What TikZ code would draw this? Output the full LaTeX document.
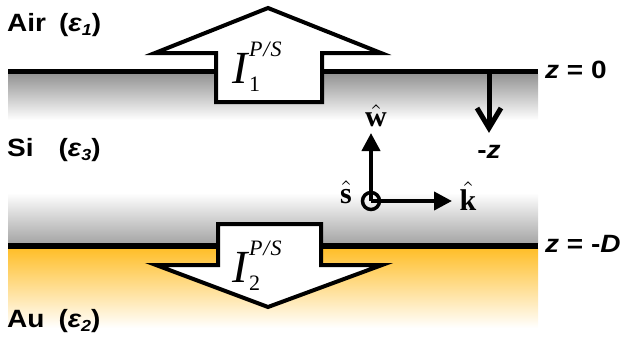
\documentclass[tikz,border=0pt]{standalone}
\usepackage{fontspec}
\usepackage{graphicx}
\newfontfamily\lab{Liberation Sans}[FakeStretch=1.12]
\newfontfamily\tms{Liberation Serif}
\usetikzlibrary{arrows.meta}
\definecolor{gold}{RGB}{255,190,40}
\newcommand\epsl[1]{{\itshape ε}\raisebox{-4pt}{\fontsize{16}{16}\selectfont\itshape #1}}
\newcommand\Ilab[1]{{\fontsize{46}{46}\selectfont\tms\itshape I}\kern1.5pt%
  {\fontsize{22}{22}\selectfont\tms\rlap{\raisebox{27pt}{\itshape P\kern1pt/\kern1pt S}}\raisebox{-8pt}{#1}}}
\newcommand\hatv[1]{\scalebox{3}{$\hat{\mbox{\tms\bfseries #1}}$}}
\tikzset{
  bigarrow/.style={draw=black, fill=white, line width=4pt, miter limit=10},
  lbl/.style={font=\lab\bfseries\fontsize{25}{25}\selectfont, inner sep=0pt, anchor=base west},
  axis/.style={line width=4pt, -{Triangle[length=18pt,width=18pt]}},
  ilbl/.style={inner sep=0pt, anchor=base west},
  hatlbl/.style={inner sep=0pt, anchor=base}
}
\begin{document}
\begin{tikzpicture}[x=1pt,y=-1pt]
\useasboundingbox (0,0) rectangle (622,349);
% layer shadings
\shade[top color=black!42, bottom color=white] (8,74) rectangle (538,120);
\shade[top color=white, bottom color=black!35] (8,193) rectangle (538,243);
\shade[top color=gold, bottom color=white] (8,248) rectangle (538,328);
% interfaces
\coordinate (t0) at (8,71.5);
\coordinate (t1) at (538,71.5);
\coordinate (b0) at (8,245.5);
\coordinate (b1) at (538,245.5);
\draw[line width=5pt] (t0) -- (t1);
\draw[line width=6pt] (b0) -- (b1);
% big arrows
\draw[bigarrow] (216,102) -- (216,53) -- (155,53) -- (268,8) -- (381,53) -- (322,53) -- (322,102) -- cycle;
\draw[bigarrow] (218,224) -- (321,224) -- (321,265) -- (382,265) -- (268,307) -- (156,265) -- (218,265) -- cycle;
\node[ilbl] (i1) at (232,83) {\Ilab{1}};
\node[ilbl] (i2) at (232,282) {\Ilab{2}};
% medium labels
\node[lbl] (air) at (7,31) {Air\hspace{13pt}(\epsl{1})};
\node[lbl] (si) at (7,156) {Si\hspace{25pt}(\epsl{3})};
\node[lbl] (au) at (7,327) {Au\hspace{14pt}(\epsl{2})};
\node[lbl] (z0) at (545,78) {{\itshape z} = 0};
\node[lbl] (zd) at (545,252) {{\itshape z} = -{\itshape D}};
% -z arrow
\coordinate (za) at (489,74);
\coordinate (zb) at (489,128);
\draw[line width=5pt] (za) -- (zb);
\draw[line width=5pt, miter limit=10] (477,108) -- (zb) -- (501,108);
\node[lbl, anchor=base] (mz) at (489,158) {-{\itshape z}};
% axes
\coordinate (o) at (371,201);
\coordinate (wt) at (371,133);
\coordinate (kt) at (452,201);
\draw[axis] (o) -- (wt);
\draw[axis] (o) -- (kt);
\draw[line width=3.5pt] (o) circle (8.5);
\node[hatlbl] (w) at (376,126) {\hatv{w}};
\node[hatlbl] (s) at (346,203) {\hatv{s}};
\node[hatlbl] (k) at (468,210) {\hatv{k}};
\end{tikzpicture}
\end{document}
